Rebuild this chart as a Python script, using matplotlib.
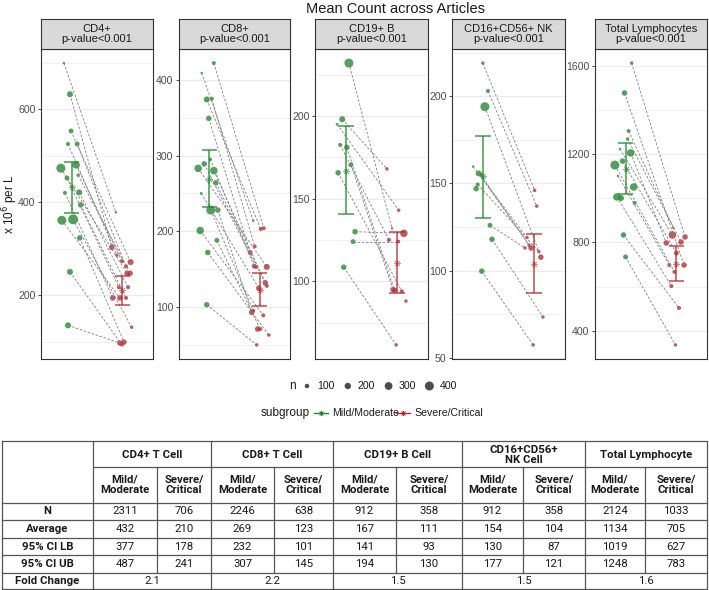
import numpy as np
import matplotlib.pyplot as plt

plt.rcParams['font.family'] = ['Liberation Sans', 'DejaVu Sans']

W, H = 709, 590

# ---- facet labels ----
panels = ['CD4+', 'CD8+', 'CD19+ B', 'CD16+CD56+ NK', 'Total Lymphocytes']
pvals = ['p-value<0.001'] * 5

# ---- per-article means, paired by index (nan = no partner) ----
cd4_mild = [699, 632, 553, 525, 525, 473, 480, 452, 458, 420, 421, 394, 361, 363, 323, 250, 135]
cd4_mild_n = [30, 180, 120, 80, 120, 400, 280, 120, 60, 80, 180, 150, 400, 480, 150, 180, 180]
cd4_mild_jit = [-0.15, -0.03, -0.01, -0.07, 0.11, -0.21, 0.09, -0.09, 0.13, -0.13, 0.15, 0.18, -0.19, 0.03, 0.16, -0.03, -0.07]
cd4_sev = [378, 303, 271, 286, 262, 247, 273, 217, 247, 194, 217, 194, 194, 131, 99, 93, 97]
cd4_sev_n = [30, 150, 180, 60, 80, 150, 80, 80, 150, 150, 80, 80, 150, 60, 150, 60, 150]
cd4_sev_jit = [-0.13, -0.21, 0.16, -0.11, 0.07, 0.09, -0.01, -0.07, 0.15, -0.19, 0.11, 0.07, -0.05, 0.18, 0.03, -0.01, -0.05]

cd8_mild = [422, 409, 374, 375, 349, 295, 289, 283, 280, 264, 250, 228, 228, 201, 188, 172, 103, np.nan]
cd8_mild_n = [80, 30, 180, 80, 150, 60, 150, 280, 280, 150, 40, 400, 150, 280, 120, 150, 150, 0]
cd8_mild_jit = [0.09, -0.15, -0.05, 0.05, -0.01, 0.02, -0.1, -0.22, 0.09, 0.13, -0.16, 0.03, 0.17, -0.18, 0.15, -0.03, -0.05, 0]
cd8_sev = [204, 214, 203, 180, 172, 154, 153, 153, 132, 128, 125, 95, 93, 89, 71, 63, 50, 71]
cd8_sev_n = [80, 30, 80, 80, 120, 120, 80, 180, 150, 80, 150, 80, 150, 80, 80, 60, 60, 150]
cd8_sev_jit = [0.08, -0.13, 0.02, -0.1, -0.19, -0.11, -0.07, 0.14, 0.11, 0.14, -0.02, -0.13, -0.16, 0.07, 0.01, 0.18, -0.06, -0.04]

cd19_mild = [232, 198, 195, 182.5, 181, 170.5, 165.6, 130, 124, 108.5, np.nan]
cd19_mild_n = [400, 180, 40, 80, 150, 120, 150, 150, 120, 150, 0]
cd19_mild_jit = [0.06, -0.07, -0.17, -0.11, 0.02, 0.1, -0.15, 0.18, 0.14, -0.04, 0]
cd19_sev = [132, 168, 143, 125, 94.5, 95, 94, 129, 124, 61.5, 88]
cd19_sev_n = [30, 60, 60, 80, 120, 150, 80, 280, 80, 60, 60]
cd19_sev_jit = [-0.1, -0.2, 0.03, -0.16, -0.05, -0.08, 0.09, 0.13, 0.02, -0.02, 0.17]

nk_mild = [219, 203, 194, 159.7, 155.7, 155, 149.4, 147, 126, 118, 99.7]
nk_mild_n = [60, 80, 400, 30, 180, 60, 80, 150, 120, 150, 150]
nk_mild_jit = [0.0, 0.1, 0.04, -0.19, -0.08, -0.04, -0.1, -0.13, 0.14, 0.18, -0.02]
nk_sev = [146, 137, 107.7, 119, 114.6, 113, 111, np.nan, 113, 73.4, 57.4]
nk_sev_n = [60, 60, 150, 60, 60, 150, 60, 0, 60, 60, 60]
nk_sev_jit = [0.01, 0.05, 0.13, -0.14, -0.1, -0.06, 0.09, 0, -0.18, 0.17, -0.02]

tot_mild = [1611, 1476, 1304, 1268, 1223, 1205, 1168, 1150, 1101, 1051, 1006, 1001, 979, 834, 735]
tot_mild_n = [60, 150, 80, 60, 30, 280, 150, 400, 30, 280, 280, 180, 80, 150, 120]
tot_mild_jit = [0.12, -0.02, 0.06, 0.04, -0.11, 0.1, -0.06, -0.21, -0.15, 0.16, -0.17, -0.09, 0.18, -0.04, 0.0]
tot_sev = [825, 698, 866, 802, 834, 798, 752, 667, 698, np.nan, 603, np.nan, np.nan, 504, 337]
tot_sev_n = [150, 150, 30, 150, 280, 150, 120, 80, 80, 0, 80, 0, 0, 80, 60]
tot_sev_jit = [0.17, 0.15, -0.06, 0.09, -0.08, -0.2, 0.0, -0.04, -0.14, 0, -0.1, 0, 0, 0.05, -0.02]

mild_sets = [(cd4_mild, cd4_mild_n, cd4_mild_jit), (cd8_mild, cd8_mild_n, cd8_mild_jit),
             (cd19_mild, cd19_mild_n, cd19_mild_jit), (nk_mild, nk_mild_n, nk_mild_jit),
             (tot_mild, tot_mild_n, tot_mild_jit)]
sev_sets = [(cd4_sev, cd4_sev_n, cd4_sev_jit), (cd8_sev, cd8_sev_n, cd8_sev_jit),
            (cd19_sev, cd19_sev_n, cd19_sev_jit), (nk_sev, nk_sev_n, nk_sev_jit),
            (tot_sev, tot_sev_n, tot_sev_jit)]

# ---- table / error bar summary ----
cells = ['CD4+ T Cell', 'CD8+ T Cell', 'CD19+ B Cell', 'CD16+CD56+\nNK Cell', 'Total Lymphocyte']
n_mild = [2311, 2246, 912, 912, 2124]
n_sev = [706, 638, 358, 358, 1033]
avg_mild = [432, 269, 167, 154, 1134]
avg_sev = [210, 123, 111, 104, 705]
lb_mild = [377, 232, 141, 130, 1019]
lb_sev = [178, 101, 93, 87, 627]
ub_mild = [487, 307, 194, 177, 1248]
ub_sev = [241, 145, 130, 121, 783]
fold = ['2.1', '2.2', '1.5', '1.5', '1.6']

major_ticks = [[200, 400, 600], [100, 200, 300, 400], [100, 150, 200],
               [50, 100, 150, 200], [400, 800, 1200, 1600]]
minor_ticks = [[100, 300, 500, 700], [50, 150, 250, 350], [75, 125, 175, 225],
               [75, 125, 175, 225], [600, 1000, 1400]]

GREEN = '#23872B'
RED = '#B22B30'
BOLD = ['Roboto', 'DejaVu Sans']


def size_of(n):
    return np.asarray(n, dtype=float) * 0.105


fig = plt.figure(figsize=(W / 100, H / 100), dpi=100)

# overlay for legend + table (pixel coordinates)
ov = fig.add_axes([0, 0, 1, 1])
ov.set_xlim(0, W)
ov.set_ylim(H, 0)
ov.axis('off')

lefts = [41, 179, 315, 452, 595]
widths = [112, 111, 113, 113, 112]
p_top, p_bot, s_top = 49, 359, 19

for i in range(5):
    l, w = lefts[i], widths[i]
    ax = fig.add_axes([l / W, 1 - p_bot / H, w / W, (p_bot - p_top) / H])
    mv, mn, mj = [np.asarray(a, dtype=float) for a in mild_sets[i]]
    sv, sn, sj = [np.asarray(a, dtype=float) for a in sev_sets[i]]

    allv = np.concatenate([mv[~np.isnan(mv)], sv[~np.isnan(sv)]])
    lo, hi = allv.min(), allv.max()
    pad = 0.05 * (hi - lo)
    ax.set_ylim(lo - pad, hi + pad)
    ax.set_xlim(0.4, 2.6)

    # paired dashed lines
    for k in range(len(mv)):
        if np.isnan(mv[k]) or np.isnan(sv[k]):
            continue
        ax.plot([1 + mj[k], 2 + sj[k]], [mv[k], sv[k]], color='#7F7F7F',
                lw=0.6, ls=(0, (3, 2)), zorder=3)

    ok = ~np.isnan(mv)
    ax.scatter(1 + mj[ok], mv[ok], s=size_of(mn[ok]), color=GREEN, alpha=0.78,
               edgecolors='none', zorder=2)
    ok = ~np.isnan(sv)
    ax.scatter(2 + sj[ok], sv[ok], s=size_of(sn[ok]), color=RED, alpha=0.78,
               edgecolors='none', zorder=2)

    # mean + 95% CI
    for x0, m, lb, ub, c in [(1, avg_mild[i], lb_mild[i], ub_mild[i], GREEN),
                             (2, avg_sev[i], lb_sev[i], ub_sev[i], RED)]:
        ax.vlines(x0, lb, ub, color=c, lw=1.1, alpha=0.85, zorder=4)
        ax.hlines([lb, ub], x0 - 0.15, x0 + 0.15, color=c, lw=1.1, alpha=0.85, zorder=4)
        ax.scatter([x0], [m], marker=(8, 2, 0), s=16, color=c, lw=0.6, alpha=0.6, zorder=4)

    ax.set_yticks(major_ticks[i])
    ax.set_yticks(minor_ticks[i], minor=True)
    ax.set_xticks([])
    ax.tick_params(axis='y', which='major', labelsize=7.6, labelcolor='#4D4D4D',
                   color='#333333', length=2.5, width=0.6, pad=1.5)
    ax.tick_params(axis='y', which='minor', length=0)
    ax.grid(axis='y', which='major', color='#EBEBEB', lw=0.9, zorder=0)
    ax.grid(axis='y', which='minor', color='#EBEBEB', lw=0.5, zorder=0)
    ax.set_axisbelow(True)
    for sp in ax.spines.values():
        sp.set_color('#333333')
        sp.set_linewidth(0.8)

    # strip
    st = fig.add_axes([l / W, 1 - p_top / H, w / W, (p_top - s_top) / H])
    st.set_facecolor('#D9D9D9')
    st.set_xticks([])
    st.set_yticks([])
    for sp in st.spines.values():
        sp.set_color('#333333')
        sp.set_linewidth(0.8)
    st.text(0.5, 0.5, panels[i] + '\n' + pvals[i], ha='center', va='center',
            fontsize=8, color='#1A1A1A', linespacing=1.1, transform=st.transAxes)

fig.text(395 / W, 1 - 9 / H, 'Mean Count across Articles', ha='center', va='center',
         fontsize=10.5, color='#1A1A1A')
fig.text(10 / W, 1 - 204 / H, r'x 10$^6$ per L', rotation=90, ha='center', va='center',
         fontsize=8.5, color='#1A1A1A')

# ---- legends ----
leg_n = [100, 200, 300, 400]
ov.text(292, 386, 'n', ha='center', va='center', fontsize=8.5, color='#1A1A1A')
for k, nv in enumerate(leg_n):
    ov.scatter([307 + 40.8 * k], [386], s=size_of(nv), color='#4D4D4D', edgecolors='none')
    ov.text(317 + 40.8 * k, 386, str(nv), ha='left', va='center', fontsize=7.6, color='#1A1A1A')

ov.text(285, 413, 'subgroup', ha='center', va='center', fontsize=8.5, color='#1A1A1A')
for xc, c, lab in [(321, GREEN, 'Mild/Moderate'), (403, RED, 'Severe/Critical')]:
    ov.plot([xc - 7, xc + 7], [413, 413], color=c, lw=1.0)
    ov.scatter([xc], [413], marker=(8, 2, 0), s=10, color=c, lw=0.6)
    ov.text(xc + 11, 413, lab, ha='left', va='center', fontsize=7.6, color='#1A1A1A')

# ---- table ----
xs = [2, 93, 157, 211, 274, 333, 396, 462, 523, 585, 645, 707]
ys = [441, 467, 503, 520, 538, 555, 573, 589]
lc, lw_t = '#555555', 0.9
ov.plot([xs[0], xs[-1], xs[-1], xs[0], xs[0]], [ys[0], ys[0], ys[-1], ys[-1], ys[0]],
        color=lc, lw=lw_t)
for gx in xs[1:-1:2]:
    ov.plot([gx, gx], [ys[0], ys[-1]], color=lc, lw=lw_t)
for sx in xs[2:-1:2]:
    ov.plot([sx, sx], [ys[1], ys[-2]], color=lc, lw=lw_t)
ov.plot([xs[1], xs[-1]], [ys[1], ys[1]], color=lc, lw=lw_t)
for yy in ys[2:-1]:
    ov.plot([xs[0], xs[-1]], [yy, yy], color=lc, lw=lw_t)

fs = 8.2
for g in range(5):
    x_a, x_m, x_b = xs[1 + 2 * g], xs[2 + 2 * g], xs[3 + 2 * g]
    ov.text((x_a + x_b) / 2, (ys[0] + ys[1]) / 2 + 1, cells[g], ha='center', va='center',
            fontsize=fs, fontweight='bold', family=BOLD, linespacing=1.0, color='#1A1A1A')
    ov.text((x_a + x_m) / 2, (ys[1] + ys[2]) / 2, 'Mild/\nModerate', ha='center',
            va='center', fontsize=fs, fontweight='bold', family=BOLD, linespacing=1.05,
            color='#1A1A1A')
    ov.text((x_m + x_b) / 2, (ys[1] + ys[2]) / 2, 'Severe/\nCritical', ha='center',
            va='center', fontsize=fs, fontweight='bold', family=BOLD, linespacing=1.05,
            color='#1A1A1A')
    rows = [(n_mild[g], n_sev[g]), (avg_mild[g], avg_sev[g]),
            (lb_mild[g], lb_sev[g]), (ub_mild[g], ub_sev[g])]
    for r, (a, b) in enumerate(rows):
        yc = (ys[2 + r] + ys[3 + r]) / 2
        ov.text((x_a + x_m) / 2, yc, str(a), ha='center', va='center', fontsize=fs,
                family=BOLD, color='#1A1A1A')
        ov.text((x_m + x_b) / 2, yc, str(b), ha='center', va='center', fontsize=fs,
                family=BOLD, color='#1A1A1A')
    ov.text((x_a + x_b) / 2, (ys[6] + ys[7]) / 2, fold[g], ha='center', va='center',
            fontsize=fs, family=BOLD, color='#1A1A1A')

row_labels = ['N', 'Average', '95% CI LB', '95% CI UB', 'Fold Change']
for r, lab in enumerate(row_labels):
    ov.text((xs[0] + xs[1]) / 2, (ys[2 + r] + ys[3 + r]) / 2, lab, ha='center',
            va='center', fontsize=fs, fontweight='bold', family=BOLD, color='#1A1A1A')

fig.savefig('out.png', dpi=100)
